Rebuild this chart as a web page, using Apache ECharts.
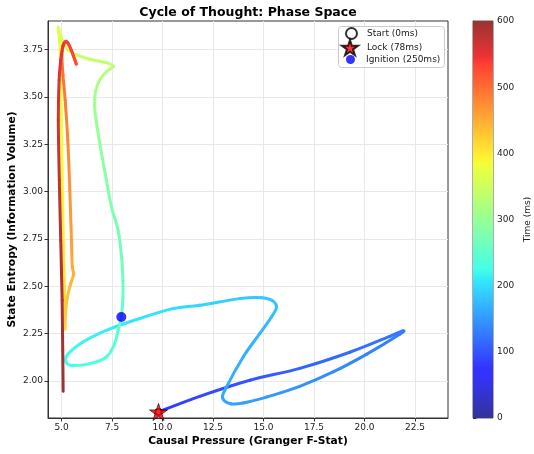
<!DOCTYPE html>
<html>
<head>
<meta charset="utf-8">
<script src="https://cdn.jsdelivr.net/npm/echarts@6/dist/echarts.min.js"></script>
<style>
  html, body { margin: 0; padding: 0; background: #fff; }
  #chart { width: 534px; height: 454px; }
</style>
</head>
<body>
<div id="chart"></div>
<script>
// trajectory: time (ms), causal pressure, state entropy
const times = [0, 78, 90, 100, 110, 118, 123, 126, 129, 134, 140, 146, 151, 155, 158, 160, 163, 167, 171, 175,
  178, 181, 184, 188, 194, 200, 206, 212, 217, 221, 224, 227, 231, 237, 241, 245, 250, 255, 260, 265,
  270, 278, 286, 294, 302, 309, 315, 321, 327, 333, 337, 343, 350, 355, 359, 364, 366, 370, 375, 385,
  395, 403, 410, 418, 425, 432, 440, 446, 452, 460, 470, 480, 490, 497, 503, 510, 515, 521, 527, 533,
  539, 545, 551, 557, 565, 575, 583, 590, 596, 600]
const pressure = [9.80, 9.80, 11.84, 14.32, 16.79, 19.27, 21.25, 21.88, 21.74, 20.09, 18.44, 16.79, 15.14, 13.99, 13.38, 12.98, 13.13, 13.99, 14.81, 15.39,
  15.64, 15.41, 14.91, 13.82, 11.84, 10.52, 8.87, 7.22, 6.06, 5.31, 5.21, 5.46, 6.40, 7.22, 7.63, 7.80, 7.96, 8.04, 8.04, 7.97,
  7.80, 7.47, 7.22, 6.98, 6.76, 6.64, 6.68, 6.89, 7.22, 7.56, 7.22, 6.40, 5.74, 5.32, 5.07, 4.88, 4.83, 4.91, 4.96, 5.01,
  5.06, 5.11, 5.15, 5.17, 5.18, 5.28, 5.46, 5.60, 5.53, 5.49, 5.41, 5.31, 5.18, 5.07, 5.02, 5.13, 5.28, 5.48, 5.73, 5.48,
  5.26, 5.08, 4.96, 4.88, 4.84, 4.89, 4.96, 5.03, 5.06, 5.08]
const entropy = [1.837, 1.837, 1.919, 2.004, 2.067, 2.152, 2.236, 2.264, 2.247, 2.141, 2.048, 1.972, 1.915, 1.884, 1.880, 1.909, 1.961, 2.127, 2.250, 2.338,
  2.391, 2.426, 2.440, 2.435, 2.400, 2.382, 2.330, 2.268, 2.206, 2.141, 2.104, 2.083, 2.092, 2.127, 2.198, 2.268, 2.338, 2.444, 2.532, 2.655,
  2.796, 2.919, 3.060, 3.201, 3.342, 3.447, 3.527, 3.588, 3.632, 3.660, 3.680, 3.698, 3.721, 3.747, 3.791, 3.853, 3.862, 3.789, 3.641, 3.272,
  2.902, 2.638, 2.453, 2.278, 2.331, 2.437, 2.516, 2.564, 2.606, 2.743, 3.007, 3.272, 3.483, 3.615, 3.721, 3.784, 3.789, 3.747, 3.673, 3.747,
  3.789, 3.773, 3.694, 3.588, 3.377, 3.060, 2.743, 2.426, 2.162, 1.946]

// marked events
const startPoint = [9.80, 1.837]
const lockPoint = [9.80, 1.837]
const ignitionPoint = [7.96, 2.338]

const xTicks = [5, 7.5, 10, 12.5, 15, 17.5, 20, 22.5]
const yTicks = [2.0, 2.25, 2.5, 2.75, 3.0, 3.25, 3.5, 3.75]
const timeMax = 600

// jet colormap, seen through alpha 0.8 on white
const jetStops = [[0, [0, 0, 128]], [0.11, [0, 0, 255]], [0.125, [0, 0, 255]], [0.34, [0, 219, 255]],
  [0.35, [0, 230, 247]], [0.375, [21, 255, 226]], [0.64, [239, 255, 8]], [0.65, [247, 245, 0]],
  [0.66, [255, 236, 0]], [0.89, [255, 19, 0]], [0.91, [232, 0, 0]], [1, [128, 0, 0]]]
const ALPHA = 0.8

function jet (f) {
  f = Math.max(0, Math.min(1, f))
  let i = 1
  while (i < jetStops.length - 1 && jetStops[i][0] < f) i++
  const [p0, c0] = jetStops[i - 1]
  const [p1, c1] = jetStops[i]
  const k = p1 === p0 ? 0 : (f - p0) / (p1 - p0)
  const rgb = c0.map((v, j) => v + (c1[j] - v) * k).map(v => Math.round(v * ALPHA + 255 * (1 - ALPHA)))
  return 'rgb(' + rgb.join(',') + ')'
}

// segments for the custom series: previous point, two ends, next point, two times
const segments = []
const last = times.length - 1
for (let i = 0; i < last; i++) {
  const a = Math.max(i - 1, 0), d = Math.min(i + 2, last)
  segments.push([pressure[a], entropy[a], pressure[i], entropy[i], pressure[i + 1], entropy[i + 1],
    pressure[d], entropy[d], times[i], times[i + 1]])
}

const starPath = 'path://M0,-100 L22.45,-30.9 L95.1,-30.9 L36.3,11.8 L58.8,80.9 L0,38.2 L-58.8,80.9 L-36.3,11.8 L-95.1,-30.9 L-22.45,-30.9 Z'

const chart = echarts.init(document.getElementById('chart'), null, { renderer: 'canvas' })

const legendBase = {
  orient: 'vertical', padding: 0, selectedMode: false
}

chart.setOption({
  animation: false,
  textStyle: { fontFamily: 'DejaVu Sans' },
  title: {
    text: 'Cycle of Thought: Phase Space',
    left: 248, top: 6, padding: 0, textAlign: 'center',
    textStyle: { fontSize: 12.5, fontWeight: 'bold', color: '#000' }
  },
  graphic: [{
    type: 'rect', left: 338, top: 26, z: 90,
    shape: { width: 106, height: 41, r: 3 },
    style: { fill: 'rgba(255,255,255,0.8)', stroke: '#cccccc', lineWidth: 1 }
  }],
  legend: [
    Object.assign({}, legendBase, { data: ['Start (0ms)'], left: 345, top: 27, itemWidth: 11, itemHeight: 11, z: 100,
      textStyle: { fontSize: 9, color: '#222', padding: [0, 0, 0, 5] } }),
    Object.assign({}, legendBase, { data: ['Lock (78ms)'], left: 341, top: 39, itemWidth: 16, itemHeight: 16, z: 100,
      textStyle: { fontSize: 9, color: '#222', padding: [0, 0, 0, 4] } }),
    Object.assign({}, legendBase, { data: ['Ignition (250ms)'], left: 346, top: 55, itemWidth: 9, itemHeight: 9, z: 100,
      textStyle: { fontSize: 9, color: '#222', padding: [0, 0, 0, 6] } })
  ],
  grid: [
    { left: 48, top: 21, width: 400, height: 397, outerBoundsMode: 'none', show: true, borderColor: '#333', borderWidth: 1 },
    { left: 473, top: 21, width: 20, height: 397, outerBoundsMode: 'none', show: true, borderColor: '#333', borderWidth: 0.8 }
  ],
  xAxis: [{
    type: 'value', gridIndex: 0, min: 4.33, max: 24.13,
    axisLine: { show: true, onZero: false, lineStyle: { color: '#333' } },
    axisTick: { show: true, length: 3.5, customValues: xTicks, lineStyle: { color: '#333' } },
    axisLabel: { customValues: xTicks, formatter: v => v.toFixed(1), fontSize: 9, color: '#222', margin: 5 },
    splitLine: { show: true, lineStyle: { color: '#e8e8e8' } },
    name: 'Causal Pressure (Granger F-Stat)', nameLocation: 'middle', nameGap: 18, nameMoveOverlap: false,
    nameTextStyle: { fontSize: 10.7, fontWeight: 'bold', color: '#000' }
  }, {
    type: 'value', gridIndex: 1, min: 0, max: 1, show: false
  }],
  yAxis: [{
    type: 'value', gridIndex: 0, min: 1.805, max: 3.90,
    axisLine: { show: true, onZero: false, lineStyle: { color: '#333' } },
    axisTick: { show: true, length: 3.5, customValues: yTicks, lineStyle: { color: '#333' } },
    axisLabel: { customValues: yTicks, formatter: v => v.toFixed(2), fontSize: 9, color: '#222', margin: 5 },
    splitLine: { show: true, lineStyle: { color: '#e8e8e8' } },
    name: 'State Entropy (Information Volume)', nameLocation: 'middle', nameGap: 30, nameMoveOverlap: false,
    nameTextStyle: { fontSize: 10.7, fontWeight: 'bold', color: '#000' }
  }, {
    type: 'value', gridIndex: 1, min: 0, max: timeMax, interval: 100, position: 'right',
    axisLine: { show: true, lineStyle: { color: '#333' } },
    axisTick: { show: true, length: 3.5, lineStyle: { color: '#333' } },
    axisLabel: { fontSize: 9, color: '#222', margin: 4 },
    splitLine: { show: false },
    name: 'Time (ms)', nameLocation: 'middle', nameGap: 30, nameRotate: 90, nameMoveOverlap: false,
    nameTextStyle: { fontSize: 9, color: '#222' }
  }],
  series: [{
    type: 'custom',
    name: 'trajectory',
    xAxisIndex: 0, yAxisIndex: 0,
    clip: true,
    data: segments,
    renderItem: (params, api) => {
      const p0 = api.coord([api.value(0), api.value(1)])
      const p1 = api.coord([api.value(2), api.value(3)])
      const p2 = api.coord([api.value(4), api.value(5)])
      const p3 = api.coord([api.value(6), api.value(7)])
      // catmull-rom handles so consecutive pieces join smoothly
      const c1 = [p1[0] + (p2[0] - p0[0]) / 6, p1[1] + (p2[1] - p0[1]) / 6]
      const c2 = [p2[0] - (p3[0] - p1[0]) / 6, p2[1] - (p3[1] - p1[1]) / 6]
      const grad = new echarts.graphic.LinearGradient(p1[0], p1[1], p2[0], p2[1] + 0.01, [
        { offset: 0, color: jet(api.value(8) / timeMax) },
        { offset: 1, color: jet(api.value(9) / timeMax) }
      ], true)
      return {
        type: 'bezierCurve',
        shape: { x1: p1[0], y1: p1[1], x2: p2[0], y2: p2[1], cpx1: c1[0], cpy1: c1[1], cpx2: c2[0], cpy2: c2[1] },
        style: { stroke: grad, fill: null, lineWidth: 3, lineCap: 'round' }
      }
    }
  }, {
    // colorbar
    type: 'custom',
    name: 'colorbar',
    xAxisIndex: 1, yAxisIndex: 1,
    data: [[0, 0, 1, timeMax]],
    renderItem: (params, api) => {
      const a = api.coord([api.value(0), api.value(1)])
      const b = api.coord([api.value(2), api.value(3)])
      const stops = jetStops.map(s => ({ offset: s[0], color: jet(s[0]) }))
      return {
        type: 'rect',
        shape: { x: a[0], y: b[1], width: b[0] - a[0], height: a[1] - b[1] },
        style: { fill: new echarts.graphic.LinearGradient(0, 1, 0, 0, stops) }
      }
    }
  }, {
    type: 'scatter', name: 'Start (0ms)', xAxisIndex: 0, yAxisIndex: 0, clip: false, z: 5,
    symbol: 'emptyCircle', symbolSize: 6,
    itemStyle: { color: '#000', borderColor: '#000', borderWidth: 2 },
    data: [startPoint]
  }, {
    type: 'scatter', name: 'Lock (78ms)', xAxisIndex: 0, yAxisIndex: 0, clip: false, z: 6,
    symbol: starPath, symbolSize: 18, symbolKeepAspect: true,
    itemStyle: { color: '#ff0000', borderColor: '#000', borderWidth: 0.8 },
    data: [lockPoint]
  }, {
    type: 'scatter', name: 'Ignition (250ms)', xAxisIndex: 0, yAxisIndex: 0, clip: false, z: 6,
    symbol: 'circle', symbolSize: 10,
    itemStyle: { color: '#0000ff' },
    data: [ignitionPoint]
  }]
})
</script>
</body>
</html>
